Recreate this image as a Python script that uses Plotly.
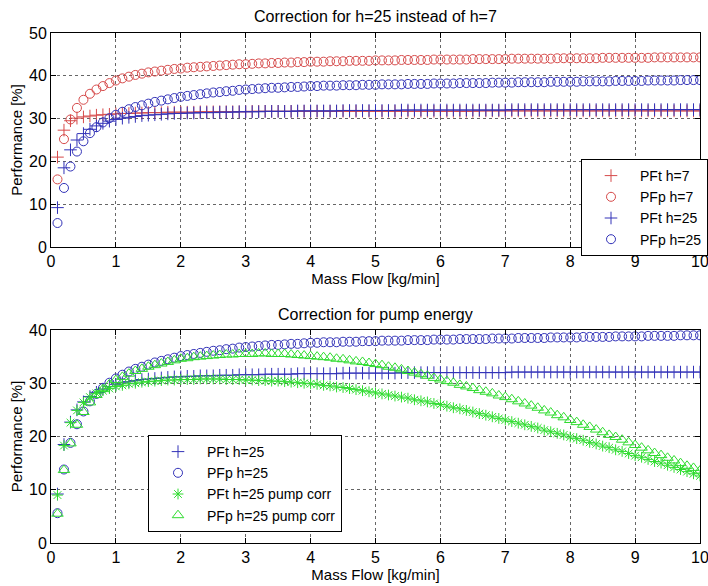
import plotly.graph_objects as go

# Mass flow samples [kg/min]
mass_flow = [
    0.1, 0.2, 0.3, 0.4, 0.5, 0.6, 0.7, 0.8, 0.9, 1.0,
    1.1, 1.2, 1.3, 1.4, 1.5, 1.6, 1.7, 1.8, 1.9, 2.0,
    2.1, 2.2, 2.3, 2.4, 2.5, 2.6, 2.7, 2.8, 2.9, 3.0,
    3.1, 3.2, 3.3, 3.4, 3.5, 3.6, 3.7, 3.8, 3.9, 4.0,
    4.1, 4.2, 4.3, 4.4, 4.5, 4.6, 4.7, 4.8, 4.9, 5.0,
    5.1, 5.2, 5.3, 5.4, 5.5, 5.6, 5.7, 5.8, 5.9, 6.0,
    6.1, 6.2, 6.3, 6.4, 6.5, 6.6, 6.7, 6.8, 6.9, 7.0,
    7.1, 7.2, 7.3, 7.4, 7.5, 7.6, 7.7, 7.8, 7.9, 8.0,
    8.1, 8.2, 8.3, 8.4, 8.5, 8.6, 8.7, 8.8, 8.9, 9.0,
    9.1, 9.2, 9.3, 9.4, 9.5, 9.6, 9.7, 9.8, 9.9, 10.0,
]

pft_h7 = [
    21.0, 27.3, 29.5, 30.1, 30.4, 30.6, 30.8, 30.9, 31.0, 31.1,
    31.2, 31.2, 31.3, 31.3, 31.4, 31.4, 31.4, 31.5, 31.5, 31.5,
    31.5, 31.5, 31.6, 31.6, 31.6, 31.6, 31.6, 31.6, 31.6, 31.6,
    31.7, 31.7, 31.7, 31.7, 31.7, 31.7, 31.7, 31.7, 31.7, 31.7,
    31.7, 31.7, 31.7, 31.7, 31.7, 31.7, 31.7, 31.7, 31.7, 31.7,
    31.7, 31.7, 31.7, 31.7, 31.7, 31.7, 31.7, 31.7, 31.7, 31.7,
    31.7, 31.7, 31.7, 31.7, 31.7, 31.8, 31.8, 31.8, 31.8, 31.8,
    31.8, 31.8, 31.8, 31.8, 31.8, 31.8, 31.8, 31.8, 31.8, 31.8,
    31.8, 31.8, 31.8, 31.8, 31.8, 31.8, 31.8, 31.8, 31.8, 31.8,
    31.8, 31.8, 31.8, 31.8, 31.8, 31.8, 31.8, 31.8, 31.8, 31.8,
]

pfp_h7 = [
    15.8, 25.2, 29.8, 32.5, 34.4, 35.8, 36.8, 37.6, 38.3, 38.9,
    39.4, 39.8, 40.2, 40.5, 40.8, 41.0, 41.2, 41.4, 41.6, 41.7,
    41.9, 42.0, 42.1, 42.2, 42.3, 42.4, 42.5, 42.6, 42.7, 42.7,
    42.8, 42.9, 42.9, 43.0, 43.0, 43.1, 43.1, 43.2, 43.2, 43.3,
    43.3, 43.3, 43.4, 43.4, 43.4, 43.5, 43.5, 43.5, 43.5, 43.6,
    43.6, 43.6, 43.6, 43.7, 43.7, 43.7, 43.7, 43.7, 43.8, 43.8,
    43.8, 43.8, 43.8, 43.8, 43.9, 43.9, 43.9, 43.9, 43.9, 43.9,
    44.0, 44.0, 44.0, 44.0, 44.0, 44.0, 44.0, 44.1, 44.1, 44.1,
    44.1, 44.1, 44.1, 44.1, 44.2, 44.2, 44.2, 44.2, 44.2, 44.2,
    44.2, 44.2, 44.3, 44.3, 44.3, 44.3, 44.3, 44.3, 44.3, 44.3,
]

pft_h25 = [
    9.2, 18.5, 22.7, 25.0, 26.5, 27.5, 28.3, 28.9, 29.4, 29.8,
    30.1, 30.3, 30.5, 30.7, 30.8, 30.9, 31.0, 31.1, 31.2, 31.2,
    31.3, 31.3, 31.4, 31.4, 31.4, 31.5, 31.5, 31.5, 31.6, 31.6,
    31.6, 31.6, 31.7, 31.7, 31.7, 31.7, 31.7, 31.8, 31.8, 31.8,
    31.8, 31.8, 31.8, 31.8, 31.9, 31.9, 31.9, 31.9, 31.9, 31.9,
    31.9, 31.9, 31.9, 32.0, 32.0, 32.0, 32.0, 32.0, 32.0, 32.0,
    32.0, 32.0, 32.0, 32.0, 32.0, 32.0, 32.0, 32.0, 32.0, 32.0,
    32.1, 32.1, 32.1, 32.1, 32.1, 32.1, 32.1, 32.1, 32.1, 32.1,
    32.1, 32.1, 32.1, 32.1, 32.1, 32.1, 32.1, 32.1, 32.1, 32.1,
    32.1, 32.1, 32.1, 32.1, 32.1, 32.1, 32.1, 32.1, 32.1, 32.1,
]

pfp_h25 = [
    5.6, 13.8, 18.8, 22.3, 24.7, 26.6, 28.0, 29.1, 30.1, 30.9,
    31.6, 32.2, 32.7, 33.1, 33.5, 33.9, 34.2, 34.5, 34.8, 35.1,
    35.3, 35.5, 35.7, 35.9, 36.1, 36.2, 36.4, 36.5, 36.7, 36.8,
    36.9, 37.0, 37.1, 37.2, 37.2, 37.3, 37.4, 37.4, 37.5, 37.6,
    37.6, 37.7, 37.7, 37.7, 37.8, 37.8, 37.8, 37.9, 37.9, 37.9,
    38.0, 38.0, 38.0, 38.0, 38.1, 38.1, 38.1, 38.1, 38.2, 38.2,
    38.2, 38.2, 38.3, 38.3, 38.3, 38.3, 38.3, 38.4, 38.4, 38.4,
    38.4, 38.5, 38.5, 38.5, 38.5, 38.5, 38.6, 38.6, 38.6, 38.6,
    38.6, 38.7, 38.7, 38.7, 38.7, 38.7, 38.8, 38.8, 38.8, 38.8,
    38.8, 38.9, 38.9, 38.9, 38.9, 38.9, 39.0, 39.0, 39.0, 39.0,
]

pft_h25_pump = [
    9.0, 18.3, 22.6, 24.9, 26.4, 27.4, 28.1, 28.6, 29.0, 29.4,
    29.6, 29.9, 30.0, 30.2, 30.3, 30.4, 30.5, 30.6, 30.6, 30.7,
    30.7, 30.7, 30.8, 30.8, 30.8, 30.8, 30.7, 30.7, 30.7, 30.6,
    30.6, 30.5, 30.5, 30.4, 30.4, 30.3, 30.2, 30.1, 30.0, 29.9,
    29.8, 29.6, 29.5, 29.3, 29.2, 29.0, 28.8, 28.6, 28.4, 28.2,
    28.0, 27.8, 27.6, 27.4, 27.2, 26.9, 26.7, 26.5, 26.2, 26.0,
    25.7, 25.4, 25.2, 24.9, 24.6, 24.3, 24.0, 23.7, 23.4, 23.1,
    22.8, 22.5, 22.2, 21.9, 21.6, 21.2, 20.9, 20.6, 20.3, 19.9,
    19.6, 19.3, 18.9, 18.6, 18.2, 17.9, 17.5, 17.2, 16.8, 16.4,
    16.1, 15.7, 15.3, 15.0, 14.6, 14.2, 13.8, 13.4, 13.0, 12.6,
]

pfp_h25_pump = [
    5.5, 13.7, 18.7, 22.2, 24.6, 26.4, 27.8, 28.9, 29.8, 30.6,
    31.2, 31.8, 32.3, 32.7, 33.1, 33.4, 33.7, 34.0, 34.3, 34.6,
    34.7, 34.9, 35.0, 35.1, 35.2, 35.3, 35.4, 35.4, 35.5, 35.5,
    35.5, 35.6, 35.6, 35.5, 35.5, 35.5, 35.4, 35.3, 35.2, 35.1,
    35.0, 34.9, 34.8, 34.6, 34.5, 34.3, 34.1, 34.0, 33.8, 33.6,
    33.4, 33.1, 32.9, 32.6, 32.3, 32.0, 31.7, 31.4, 31.0, 30.7,
    30.4, 30.1, 29.7, 29.4, 29.1, 28.7, 28.4, 28.1, 27.7, 27.4,
    27.0, 26.6, 26.2, 25.8, 25.4, 24.9, 24.5, 24.0, 23.6, 23.1,
    22.7, 22.2, 21.8, 21.3, 20.8, 20.3, 19.9, 19.4, 18.9, 18.4,
    17.9, 17.4, 16.9, 16.5, 16.0, 15.5, 15.0, 14.5, 14.1, 13.6,
]

RED = "#d64a4a"
BLUE = "#3232b8"
GREEN = "#2fdc2f"
FONT = "Arial, Liberation Sans, sans-serif"

W, H = 708, 586
X0, X1 = 51, 700            # plot area left/right (px)
TOP_Y0, TOP_Y1 = 33, 247    # top panel top/bottom (px)
BOT_Y0, BOT_Y1 = 330, 543   # bottom panel top/bottom (px)


def fy(py):
    return (H - py) / H


def fx(px):
    return px / W


def series(x, y, name, color, symbol, size, xa, ya, legend):
    return go.Scatter(
        x=x, y=y, name=name, mode="markers",
        xaxis=xa, yaxis=ya, legend=legend,
        marker=dict(symbol=symbol, size=size, color=color,
                    line=dict(color=color, width=1)),
    )


fig = go.Figure()
fig.add_trace(series(mass_flow, pft_h7, "PFt h=7", RED, "cross-thin-open", 9, "x", "y", "legend"))
fig.add_trace(series(mass_flow, pfp_h7, "PFp h=7", RED, "circle-open", 9, "x", "y", "legend"))
fig.add_trace(series(mass_flow, pft_h25, "PFt h=25", BLUE, "cross-thin-open", 9, "x", "y", "legend"))
fig.add_trace(series(mass_flow, pfp_h25, "PFp h=25", BLUE, "circle-open", 9, "x", "y", "legend"))

fig.add_trace(series(mass_flow, pft_h25, "PFt h=25", BLUE, "cross-thin-open", 9, "x2", "y2", "legend2"))
fig.add_trace(series(mass_flow, pfp_h25, "PFp h=25", BLUE, "circle-open", 9, "x2", "y2", "legend2"))
fig.add_trace(series(mass_flow, pft_h25_pump, "PFt h=25 pump corr", GREEN, "asterisk-open", 9, "x2", "y2", "legend2"))
fig.add_trace(series(mass_flow, pfp_h25_pump, "PFp h=25 pump corr", GREEN, "triangle-up-open", 10, "x2", "y2", "legend2"))

axis_common = dict(
    showline=True, linecolor="black", linewidth=1, mirror="ticks",
    ticks="inside", ticklen=5, tickcolor="black",
    showgrid=True, gridcolor="#666666", griddash="dot", gridwidth=1,
    zeroline=False, automargin=False, ticklabeloverflow="allow",
    tickfont=dict(family=FONT, size=16, color="black"),
)

xticks = dict(range=[0, 10], tickvals=list(range(0, 11)))

xtitle = dict(text="Mass Flow [kg/min]", font=dict(family=FONT, size=15), standoff=3)
ytitle = dict(text="Performance [%]", font=dict(family=FONT, size=15), standoff=2)

legend_common = dict(
    xanchor="left", yanchor="top",
    bgcolor="white", bordercolor="black", borderwidth=1,
    font=dict(family=FONT, size=14, color="black"),
    tracegroupgap=0, itemwidth=48,
)

fig.update_layout(
    width=W, height=H,
    margin=dict(l=0, r=0, t=0, b=0, autoexpand=False),
    paper_bgcolor="white", plot_bgcolor="white",
    font=dict(family=FONT, color="black"),
    xaxis=dict(domain=[fx(X0), fx(X1)], anchor="y", **xticks, **axis_common, title=xtitle),
    yaxis=dict(domain=[fy(TOP_Y1), fy(TOP_Y0)], anchor="x", range=[0, 50], dtick=10,
               **axis_common, title=ytitle),
    xaxis2=dict(domain=[fx(X0), fx(X1)], anchor="y2", **xticks, **axis_common, title=xtitle),
    yaxis2=dict(domain=[fy(BOT_Y1), fy(BOT_Y0)], anchor="x2", range=[0, 40], dtick=10,
                **axis_common, title=ytitle),
    legend=dict(x=fx(581), y=fy(159), **legend_common),
    legend2=dict(x=fx(148), y=fy(435), **legend_common),
    annotations=[
        dict(text="Correction for h=25 instead of h=7", x=fx((X0 + X1) / 2), y=fy(17),
             xref="paper", yref="paper", showarrow=False, xanchor="center", yanchor="middle",
             font=dict(family=FONT, size=16, color="black")),
        dict(text="Correction for pump energy", x=fx((X0 + X1) / 2), y=fy(314),
             xref="paper", yref="paper", showarrow=False, xanchor="center", yanchor="middle",
             font=dict(family=FONT, size=16, color="black")),
    ],
)

fig.write_html("out.html")
